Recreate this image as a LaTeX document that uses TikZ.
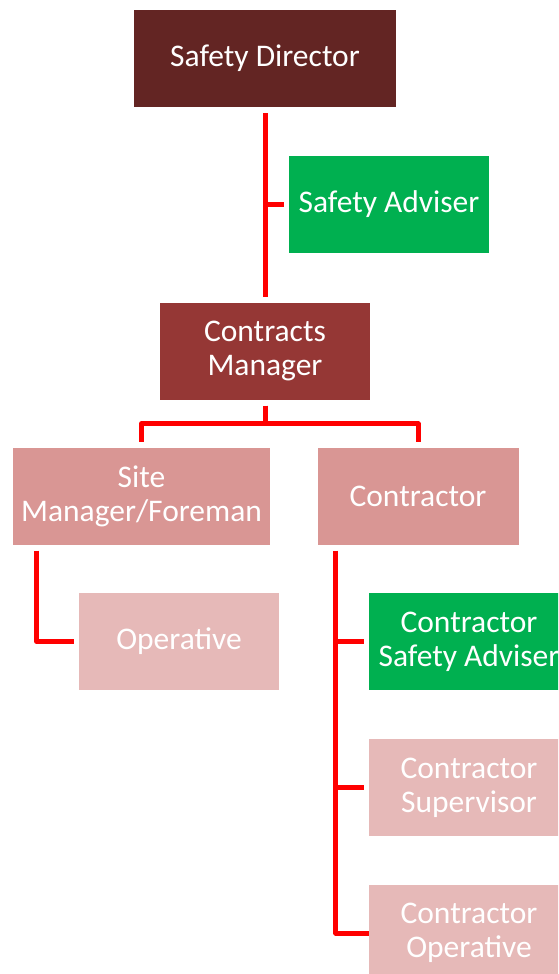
\documentclass[tikz,border=0pt]{standalone}
\usepackage{fontspec}
\setmainfont{Carlito}
\usetikzlibrary{calc}

\definecolor{darkrole}{HTML}{632523}
\definecolor{midrole}{HTML}{953735}
\definecolor{lightrole}{HTML}{D99694}
\definecolor{paleRole}{HTML}{E6B9B8}
\definecolor{safegreen}{HTML}{00B050}

\tikzset{
  role/.style={minimum width=200, minimum height=97, inner sep=0pt,
    text=white, align=center, font=\fontsize{31.5}{34}\selectfont},
  link/.style={draw=red, line width=5, line join=round, shorten <=6, shorten >=5}
}

\begin{document}
\begin{tikzpicture}[x=1pt, y=-1pt]
\useasboundingbox (0,0) rectangle (558,974);
\clip (0,0) rectangle (558,974);
\fill [white] (0,0) rectangle (558,974);

% top of the chart
\node [role, fill=darkrole, minimum width=262] (dir) at (265, 58.5) {Safety Director};
\node [role, fill=safegreen] (adv) at (389, 204.5) {Safety Adviser};
\node [role, fill=midrole, minimum width=210] (cm) at (265, 351) {Contracts\\Manager};

% second level
\node [role, fill=lightrole, minimum width=257] (site) at (141.5, 496) {Site\\Manager/Foreman};
\node [role, fill=lightrole, minimum width=201] (con) at (418, 496) {Contractor};

% third level
\node [role, fill=paleRole] (op) at (179, 641.5) {Operative};
\node [role, fill=safegreen] (csa) at (469, 641.5) {Contractor\\Safety Adviser};
\node [role, fill=paleRole] (csup) at (469, 787.5) {Contractor\\Supervisor};
\node [role, fill=paleRole] (cop) at (469, 933) {Contractor\\Operative};

% connectors
\draw [link] (dir.south) -- (cm.north);
\draw [link, shorten <=0] (dir.south |- adv.west) -- (adv.west);

\draw [link] (cm.south) -- ++(0,24) -| (site.north);
\draw [link] (cm.south) -- ++(0,24) -| (con.north);

\coordinate (sitetrunk) at ($(site.south west)+(24,0)$);
\draw [link] (sitetrunk) |- (op.west);

\coordinate (contrunk) at ($(con.south west)+(18.5,0)$);
\draw [link, shorten >=0] (contrunk) |- (cop.west);
\draw [link, shorten <=0] (contrunk |- csa.west) -- (csa.west);
\draw [link, shorten <=0] (contrunk |- csup.west) -- (csup.west);
\draw [link, shorten <=0] (contrunk |- cop.west) -- (cop.west);
\end{tikzpicture}
\end{document}
